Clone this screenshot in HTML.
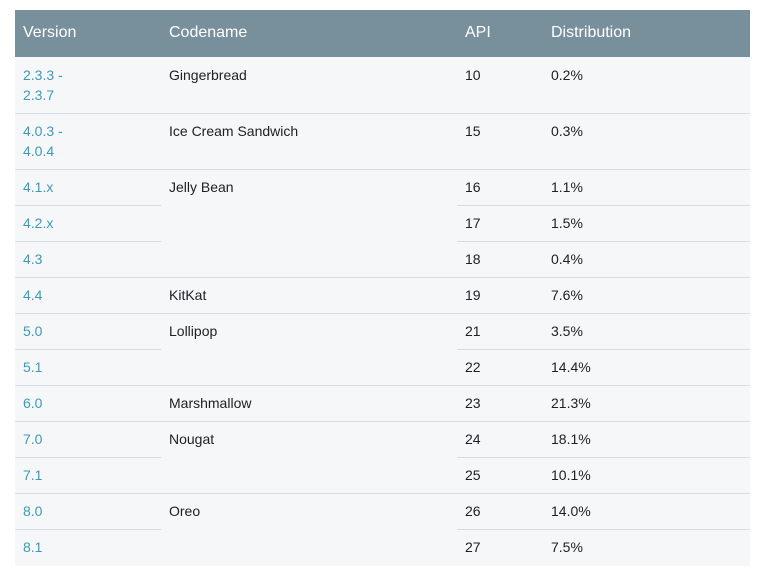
<!DOCTYPE html>
<html><head><style>
body{margin:0;width:760px;height:578px;background:#fff;position:relative;font-family:"Liberation Sans",sans-serif;overflow:hidden}
.hd{position:absolute;left:15px;top:10px;width:735px;height:47px;background:#78909c}
.bd{position:absolute;left:15px;top:57px;width:735px;height:509px;background:#f6f7f9}
.t{position:absolute;font-size:14px;line-height:20px;color:#202124}
.h{position:absolute;top:23px;font-size:16px;color:#fff;line-height:20px}
.v{color:#3a9bb5}
.l{position:absolute;height:1px;background:#dadde0;left:15px}
</style></head><body>
<div class="hd"></div><div class="bd"></div>
<div class="h" style="left:23px">Version</div>
<div class="h" style="left:169px">Codename</div>
<div class="h" style="left:465px">API</div>
<div class="h" style="left:551px">Distribution</div>

<div class="t v" style="left:23px;top:65px">2.3.3 -<br>2.3.7</div>
<div class="t" style="left:169px;top:65px">Gingerbread</div>
<div class="t" style="left:465px;top:65px">10</div>
<div class="t" style="left:551px;top:65px">0.2%</div>
<div class="l" style="top:113px;width:735px"></div>

<div class="t v" style="left:23px;top:121px">4.0.3 -<br>4.0.4</div>
<div class="t" style="left:169px;top:121px">Ice Cream Sandwich</div>
<div class="t" style="left:465px;top:121px">15</div>
<div class="t" style="left:551px;top:121px">0.3%</div>
<div class="l" style="top:169px;width:735px"></div>

<div class="t v" style="left:23px;top:177px">4.1.x</div>
<div class="t" style="left:169px;top:177px">Jelly Bean</div>
<div class="t" style="left:465px;top:177px">16</div>
<div class="t" style="left:551px;top:177px">1.1%</div>
<div class="l" style="top:205px;width:146px"></div><div class="l" style="top:205px;left:457px;width:293px"></div>

<div class="t v" style="left:23px;top:213px">4.2.x</div>
<div class="t" style="left:465px;top:213px">17</div>
<div class="t" style="left:551px;top:213px">1.5%</div>
<div class="l" style="top:241px;width:146px"></div><div class="l" style="top:241px;left:457px;width:293px"></div>

<div class="t v" style="left:23px;top:249px">4.3</div>
<div class="t" style="left:465px;top:249px">18</div>
<div class="t" style="left:551px;top:249px">0.4%</div>
<div class="l" style="top:277px;width:735px"></div>

<div class="t v" style="left:23px;top:285px">4.4</div>
<div class="t" style="left:169px;top:285px">KitKat</div>
<div class="t" style="left:465px;top:285px">19</div>
<div class="t" style="left:551px;top:285px">7.6%</div>
<div class="l" style="top:313px;width:735px"></div>

<div class="t v" style="left:23px;top:321px">5.0</div>
<div class="t" style="left:169px;top:321px">Lollipop</div>
<div class="t" style="left:465px;top:321px">21</div>
<div class="t" style="left:551px;top:321px">3.5%</div>
<div class="l" style="top:349px;width:146px"></div><div class="l" style="top:349px;left:457px;width:293px"></div>

<div class="t v" style="left:23px;top:357px">5.1</div>
<div class="t" style="left:465px;top:357px">22</div>
<div class="t" style="left:551px;top:357px">14.4%</div>
<div class="l" style="top:385px;width:735px"></div>

<div class="t v" style="left:23px;top:393px">6.0</div>
<div class="t" style="left:169px;top:393px">Marshmallow</div>
<div class="t" style="left:465px;top:393px">23</div>
<div class="t" style="left:551px;top:393px">21.3%</div>
<div class="l" style="top:421px;width:735px"></div>

<div class="t v" style="left:23px;top:429px">7.0</div>
<div class="t" style="left:169px;top:429px">Nougat</div>
<div class="t" style="left:465px;top:429px">24</div>
<div class="t" style="left:551px;top:429px">18.1%</div>
<div class="l" style="top:457px;width:146px"></div><div class="l" style="top:457px;left:457px;width:293px"></div>

<div class="t v" style="left:23px;top:465px">7.1</div>
<div class="t" style="left:465px;top:465px">25</div>
<div class="t" style="left:551px;top:465px">10.1%</div>
<div class="l" style="top:493px;width:735px"></div>

<div class="t v" style="left:23px;top:501px">8.0</div>
<div class="t" style="left:169px;top:501px">Oreo</div>
<div class="t" style="left:465px;top:501px">26</div>
<div class="t" style="left:551px;top:501px">14.0%</div>
<div class="l" style="top:529px;width:146px"></div><div class="l" style="top:529px;left:457px;width:293px"></div>

<div class="t v" style="left:23px;top:537px">8.1</div>
<div class="t" style="left:465px;top:537px">27</div>
<div class="t" style="left:551px;top:537px">7.5%</div>
</body></html>
